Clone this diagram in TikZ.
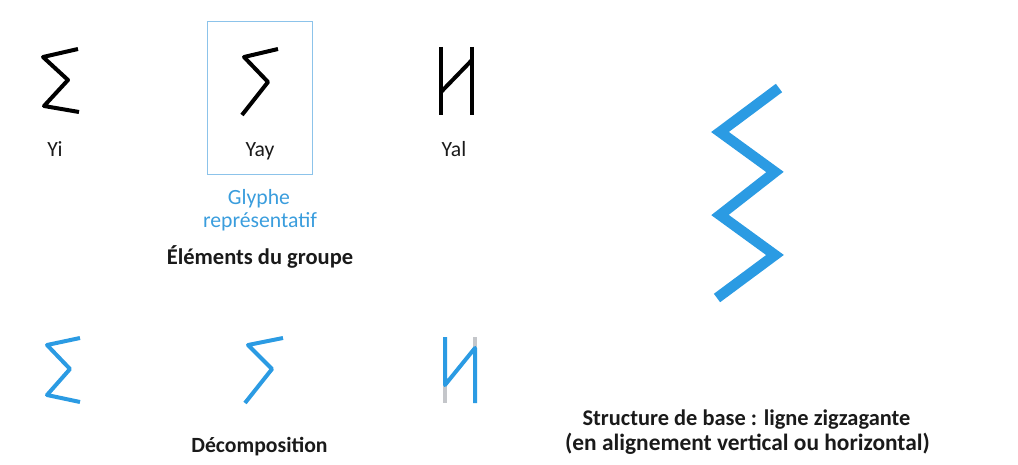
\documentclass[tikz,border=0pt]{standalone}
\usepackage{fontspec}
\setmainfont{Carlito}
\definecolor{zblue}{HTML}{2B9BE3}
\definecolor{tblue}{HTML}{3A9DDD}
\definecolor{boxblue}{HTML}{8CC3EA}
\definecolor{zgrey}{HTML}{C4C6CA}
\definecolor{txt}{HTML}{1A1A1A}
\tikzset{
  glyph/.style={line width=4pt, line join=round, line cap=butt},
  lbl/.style={font=\fontsize{21.7}{24}\selectfont, text=txt, anchor=base, inner sep=0pt},
  blbl/.style={font=\fontsize{21.7}{24}\selectfont\bfseries, text=txt, anchor=base, inner sep=0pt},
  bluelbl/.style={font=\fontsize{21.7}{24}\selectfont, text=tblue, anchor=base, inner sep=0pt},
}
\begin{document}
\begin{tikzpicture}[x=1pt,y=-1pt]
\useasboundingbox (0,0) rectangle (1018,465);
% representative box
\node[draw=boxblue, line width=1pt, minimum width=105pt, minimum height=153pt, inner sep=0pt] (box) at (259.5,98.5) {};
% black glyphs
\draw[glyph, black] (78,49) -- (43,57) -- (68,80) -- (44,106) -- (79,112);
\draw[glyph, black] (278,49) -- (244,57) -- (268,82) -- (242,115);
\draw[glyph, black] (441,47) -- (441,115);
\draw[glyph, black] (472,47) -- (472,115);
\draw[glyph, black] (441,92) -- (472,60);
% labels
\node[lbl] (yi) at (55,157) {Yi};
\node[lbl] (yay) at (260,157) {Yay};
\node[lbl] (yal) at (454,157) {Yal};
\node[bluelbl] (gl1) at (259,205) {Glyphe};
\node[bluelbl] (gl2) at (260,228) {représentatif};
\node[blbl, font=\fontsize{22.5}{25}\selectfont\bfseries] (elem) at (260,265) {Éléments du groupe};
% decomposition glyphs
\draw[glyph, zblue] (80,338) -- (47,345) -- (70,369) -- (47,395) -- (80,402);
\draw[glyph, zblue] (283,338) -- (248,345) -- (272,369) -- (245,403);
\draw[glyph, zgrey] (445,385) -- (445,403);
\draw[glyph, zgrey] (475,337) -- (475,348);
\draw[glyph, zblue] (445,337) -- (445,385) -- (475,348) -- (475,403);
\node[blbl] (decomp) at (259.5,452) {Décomposition};
% big zigzag
\draw[zblue, line width=10.5pt, line join=miter, line cap=butt]
  (779,88) -- (720,132) -- (775,172) -- (720,215) -- (775,255) -- (717,298);
\node[blbl, font=\fontsize{22.4}{25}\selectfont\bfseries] (s1) at (746.5,425) {Structure de base : ligne zigzagante};
\node[blbl, font=\fontsize{23.4}{26}\selectfont\bfseries] (s2) at (747.5,450) {(en alignement vertical ou horizontal)};
\end{tikzpicture}
\end{document}
